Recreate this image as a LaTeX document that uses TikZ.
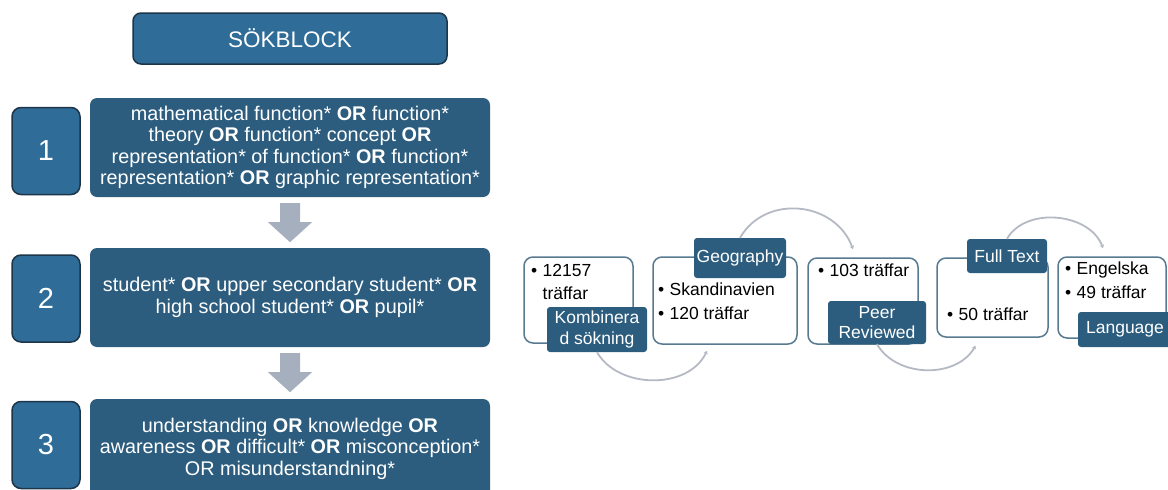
\documentclass[tikz,border=0pt]{standalone}
\usepackage{fontspec}
\setmainfont{Liberation Sans}
\usetikzlibrary{calc,arrows.meta}
\definecolor{termblue}{HTML}{2C5D7F}
\definecolor{numblue}{HTML}{2F6C97}
\definecolor{numedge}{HTML}{1C3549}
\definecolor{hitedge}{HTML}{577A91}
\definecolor{arcgray}{HTML}{B4B9C3}
\definecolor{blockgray}{HTML}{A6AFBE}
\newcommand{\bul}{\makebox[11.5pt][l]{\textbullet}}
\newcommand{\nobul}{\makebox[11.5pt][l]{}}

\begin{document}
\begin{tikzpicture}[x=1pt,y=1pt,
    numbox/.style={draw=numedge,line width=1.5,fill=numblue,rounded corners=9,text=white,
      font=\fontsize{29}{31}\selectfont,minimum width=68,minimum height=87},
    termbox/.style={fill=termblue,rounded corners=7,text=white,align=center,
      font=\fontsize{19.8}{21.5}\selectfont,minimum width=400,minimum height=99},
    hitbox/.style={draw=hitedge,line width=1.5,fill=white,rounded corners=9},
    tagbox/.style={fill=termblue,rounded corners=3,text=white,align=center,inner sep=0,
      font=\fontsize{17.5}{20.5}\selectfont},
    hits/.style={anchor=north west,inner sep=0,align=left,font=\fontsize{17.5}{23.5}\selectfont},
    hoparc/.style={draw=arcgray,line width=1.8,-{Stealth[length=3.5pt,width=4.5pt]}}]
    \useasboundingbox (0,0) rectangle (1168,-490);
    \clip (0,0) rectangle (1168,-490);

    \node[numbox,font=\fontsize{22.5}{25}\selectfont,minimum width=314,minimum height=51,rounded corners=8] (sok) at (290,-38.5) {SÖKBLOCK};

    \node[numbox] (n1) at (46,-151) {1};
    \node[termbox] (t1) at (290,-147.5) {mathematical function* \textbf{OR} function*\\ theory \textbf{OR} function* concept \textbf{OR}\\ representation* of function* \textbf{OR} function*\\ representation* \textbf{OR} graphic representation*};
    \node[numbox] (n2) at (46,-298.5) {2};
    \node[termbox] (t2) at (290,-297.5) {student* \textbf{OR} upper secondary student* \textbf{OR}\\ high school student* \textbf{OR} pupil*};
    \node[numbox] (n3) at (46,-445) {3};
    \node[termbox] (t3) at (290,-448.5) {understanding \textbf{OR} knowledge \textbf{OR}\\ awareness \textbf{OR} difficult* \textbf{OR} misconception*\\ OR misunderstandning*};

    \foreach \a in {t1,t2}
      \fill[blockgray] ($(\a.south)+(-10,-6)$) -- ++(20,0) -- ++(0,-19) -- ++(12,0) -- ++(-22,-20) -- ++(-22,20) -- ++(12,0) -- cycle;

    \node[hitbox,minimum width=109,minimum height=86] (bA) at (578.5,-300) {};
    \node[hitbox,minimum width=144,minimum height=87] (bB) at (725,-300.5) {};
    \node[hitbox,minimum width=110,minimum height=86] (bC) at (863,-301) {};
    \node[hitbox,minimum width=111,minimum height=79] (bD) at (992.5,-297.5) {};
    \node[hitbox,minimum width=108,minimum height=81] (bE) at (1112,-297.5) {};

    \node[hits] (hA) at (531,-264) {\bul 12157\\ \nobul träffar};
    \node[hits] (hB) at (658,-283) {\bul Skandinavien\\ \bul 120 träffar};
    \node[hits] (hC) at (818,-264) {\bul 103 träffar};
    \node[hits] (hD) at (947,-308) {\bul 50 träffar};
    \node[hits] (hE) at (1065,-262) {\bul Engelska\\ \bul 49 träffar};

    \node[tagbox,minimum width=100,minimum height=45] (kom) at (597,-329.5) {Kombinera\\ d sökning};
    \node[tagbox,minimum width=92,minimum height=40] (geo) at (740,-258) {Geography};
    \node[tagbox,minimum width=98,minimum height=43] (peer) at (877,-322.5) {Peer\\ Reviewed};
    \node[tagbox,minimum width=80,minimum height=34] (full) at (1007,-256) {Full Text};
    \node[tagbox,minimum width=94,minimum height=35] (lang) at (1125,-329.5) {Language};

    \draw[hoparc] (kom.south) to[out=-60,in=-115] ($(bB.south)+(-18,-6)$);
    \draw[hoparc] (geo.north) to[out=60,in=110,looseness=1.15] ($(bC.north)+(-10,8)$);
    \draw[hoparc] (peer.south) to[out=-60,in=-120] ($(bD.south)+(-17,-8)$);
    \draw[hoparc] (full.north) to[out=60,in=110] ($(bE.north)+(-9,8)$);
\end{tikzpicture}
\end{document}
